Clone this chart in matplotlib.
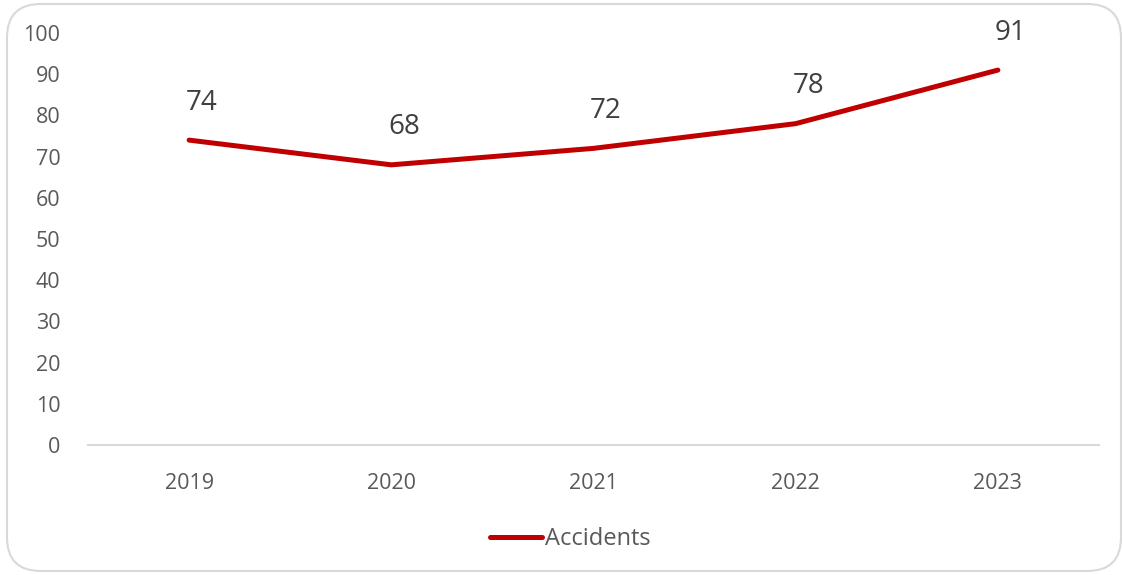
import matplotlib
matplotlib.use("Agg")
import matplotlib.pyplot as plt
from matplotlib.patches import FancyBboxPatch

years = ["2019", "2020", "2021", "2022", "2023"]
accidents = [74, 68, 72, 78, 91]
series_name = "Accidents"

plt.rcParams['font.family'] = ['Open Sans', 'DejaVu Sans']

fig = plt.figure(figsize=(11.23, 5.75), dpi=100)
ax = fig.add_axes([0.0784, 0.2261, 0.9002, 0.7165])

border = FancyBboxPatch((7/1123, 4/575), (1114/1123), (567/575),
                        boxstyle="round,pad=0,rounding_size=0.03",
                        transform=fig.transFigure, facecolor='white',
                        edgecolor='#D9D9D9', linewidth=1.5, zorder=-10,
                        mutation_aspect=1123/575)
fig.patches.append(border)

x = list(range(len(years)))
ax.plot(x, accidents, color='#C00000', linewidth=3.6, solid_capstyle='round',
        label=series_name)
for xi, v in zip(x, accidents):
    ax.annotate(str(v), (xi, v), xytext=(9, 27), textcoords='offset points',
                ha='center', va='center', fontsize=20, color='#404040')

ax.set_xlim(-0.5, len(years) - 0.5)
ax.set_ylim(0, 100)
ax.set_yticks(range(0, 101, 10))
ax.set_xticks(x)
ax.set_xticklabels(years)
ax.tick_params(axis='both', length=0, labelsize=15.5, labelcolor='#595959')
ax.tick_params(axis='x', pad=20)
ax.tick_params(axis='y', pad=20)
for s in ['top', 'right', 'left']:
    ax.spines[s].set_visible(False)
ax.spines['bottom'].set_color('#D9D9D9')
ax.spines['bottom'].set_linewidth(1.5)
ax.patch.set_alpha(0)

leg = fig.legend(loc='center', bbox_to_anchor=(0.508, 1 - 539/575), frameon=False,
                 fontsize=17, handlelength=2.2, handletextpad=0.15)
for t in leg.get_texts():
    t.set_color('#595959')

fig.savefig("out.png", dpi=100)
